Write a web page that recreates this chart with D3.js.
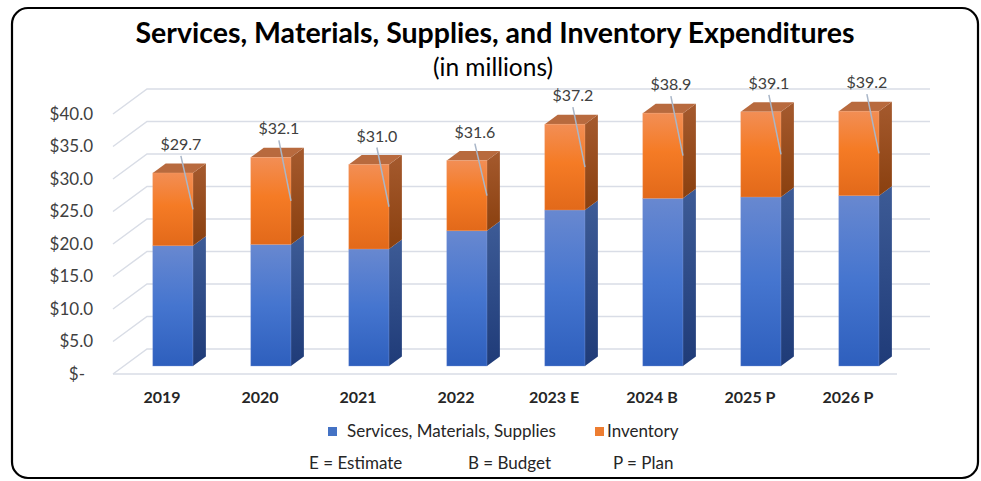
<!DOCTYPE html>
<html>
<head>
<meta charset="utf-8">
<script src="https://cdn.jsdelivr.net/npm/d3@7"></script>
<style>
  html, body { margin: 0; padding: 0; background: #fff; }
  svg { display: block; font-family: Lato, "Open Sans", sans-serif; }
</style>
</head>
<body>
<svg id="chart" width="981" height="481"></svg>
<script>
// Expenditure data (in millions of dollars)
const categories = ["2019", "2020", "2021", "2022", "2023 E", "2024 B", "2025 P", "2026 P"];
const servicesValues = [18.5, 18.7, 18.0, 20.8, 24.0, 25.8, 26.0, 26.2];
const inventoryValues = [11.2, 13.4, 13.0, 10.8, 13.2, 13.1, 13.1, 13.0];
const totalLabels = ["$29.7", "$32.1", "$31.0", "$31.6", "$37.2", "$38.9", "$39.1", "$39.2"];
const seriesNames = ["Services, Materials, Supplies", "Inventory"];
const yTicks = [0, 5, 10, 15, 20, 25, 30, 35, 40];
const noteLabels = ["E = Estimate", "B = Budget", "P = Plan"];

const svg = d3.select("#chart");

// Oblique 3-D projection: depth t in [0,1] shifts right and up
const DX = 34, DY = 25;
const tFront = 0.32, tBack = 0.70;

const x = d3.scaleBand().domain(categories).range([113, 897]).padding(0);
const y = d3.scaleLinear().domain([0, 40]).range([374, 114]);
const barW = x.bandwidth() * 0.41;
const P = (xf, v, t) => [xf + DX * t, y(v) - DY * t];

// Chart frame
svg.append("rect")
  .attr("x", 12).attr("y", 8).attr("width", 966).attr("height", 470)
  .attr("rx", 16).attr("ry", 16)
  .attr("fill", "#fff").attr("stroke", "#000").attr("stroke-width", 2.2);

// Titles
svg.append("text")
  .attr("x", 495).attr("y", 43)
  .attr("text-anchor", "middle")
  .attr("font-size", 28.5).attr("font-weight", 700).attr("fill", "#000")
  .text("Services, Materials, Supplies, and Inventory Expenditures");
svg.append("text")
  .attr("x", 493).attr("y", 76)
  .attr("text-anchor", "middle")
  .attr("font-size", 24.5).attr("fill", "#000")
  .text("(in millions)");

// Gradients
const defs = svg.append("defs");
function vGrad(id, stops) {
  const g = defs.append("linearGradient").attr("id", id)
    .attr("x1", 0).attr("y1", 0).attr("x2", 0).attr("y2", 1);
  stops.forEach(([o, c]) => g.append("stop").attr("offset", o).attr("stop-color", c));
}
vGrad("blueFront", [[0, "#6888d0"], [0.5, "#4575cf"], [1, "#2e5fbd"]]);
vGrad("blueSide", [[0, "#3d5b96"], [1, "#1f3b78"]]);
vGrad("orangeFront", [[0, "#f28e55"], [0.45, "#f57b25"], [1, "#e2691a"]]);
vGrad("orangeSide", [[0, "#a55a2e"], [1, "#8a400f"]]);

// Gridlines: wall line plus the diagonal floor-to-wall stub
const grid = svg.append("g").attr("stroke", "#d9dde6").attr("stroke-width", 1.5).attr("fill", "none");
yTicks.forEach(v => {
  const a = P(113, v, 0), b = P(113, v, 1);
  grid.append("path").attr("d", `M${a[0]},${a[1]}L${b[0]},${b[1]}L930,${b[1]}`);
});
grid.append("path").attr("d", `M113,${y(0)}L897,${y(0)}`);

// Y axis labels
const yAxis = svg.append("g")
  .attr("transform", "translate(113,0)")
  .call(d3.axisLeft(y).tickValues(yTicks).tickSize(0).tickPadding(20)
    .tickFormat(v => v === 0 ? "$-" : "$" + v.toFixed(1)));
yAxis.select(".domain").remove();
yAxis.selectAll("text")
  .attr("font-family", "Lato, sans-serif").attr("font-size", 17).attr("fill", "#404040")
  .attr("dx", v => v === 0 ? -8 : 0);

// X axis labels
const xAxis = svg.append("g")
  .attr("transform", `translate(0,${y(0)})`)
  .call(d3.axisBottom(x).tickSize(0).tickPadding(18));
xAxis.select(".domain").remove();
xAxis.selectAll("text")
  .attr("font-family", "Lato, sans-serif").attr("font-size", 16)
  .attr("font-weight", 700).attr("fill", "#262626");

// Stacked 3-D bars
const stackData = categories.map((c, i) => ({ cat: c, services: servicesValues[i], inventory: inventoryValues[i] }));
const stacked = d3.stack().keys(["services", "inventory"])(stackData);
const fills = {
  services: { front: "url(#blueFront)", side: "url(#blueSide)", top: "#4a6aad", edge: "#7e9ad8" },
  inventory: { front: "url(#orangeFront)", side: "url(#orangeSide)", top: "#b86a3e", edge: "#f4a070" }
};
const poly = pts => "M" + pts.map(p => p.join(",")).join("L") + "Z";

const bars = svg.append("g");
categories.forEach((c, i) => {
  const cx = x(c) + x.bandwidth() / 2;
  const xl = cx - barW / 2, xr = cx + barW / 2;
  stacked.forEach((layer, li) => {
    const [v0, v1] = layer[i];
    const f = fills[layer.key];
    const g = bars.append("g");
    // side face
    g.append("path").attr("d", poly([P(xr, v0, tFront), P(xr, v0, tBack), P(xr, v1, tBack), P(xr, v1, tFront)]))
      .attr("fill", f.side);
    // top face on the highest segment
    if (li === stacked.length - 1) {
      g.append("path").attr("d", poly([P(xl, v1, tFront), P(xr, v1, tFront), P(xr, v1, tBack), P(xl, v1, tBack)]))
        .attr("fill", f.top);
    }
    // front face
    const a = P(xl, v1, tFront), b = P(xr, v0, tFront);
    g.append("rect")
      .attr("x", a[0]).attr("y", a[1]).attr("width", b[0] - a[0]).attr("height", b[1] - a[1])
      .attr("fill", f.front).attr("stroke", f.edge).attr("stroke-width", 0.6).attr("stroke-opacity", 0.6);
  });
});

// Total labels with leader lines to the inventory segment
const labels = svg.append("g");
categories.forEach((c, i) => {
  const cx = x(c) + x.bandwidth() / 2;
  const total = servicesValues[i] + inventoryValues[i];
  const top = P(cx, total, tFront);
  const lx = top[0] + 8, ly = top[1] - 29;
  const mid = P(cx + barW / 2, servicesValues[i] + inventoryValues[i] / 2, tFront);
  labels.append("line")
    .attr("x1", lx).attr("y1", ly + 12).attr("x2", mid[0]).attr("y2", mid[1])
    .attr("stroke", "#a9b6c8").attr("stroke-width", 1.5);
  labels.append("text")
    .attr("x", lx).attr("y", ly + 6)
    .attr("text-anchor", "middle")
    .attr("font-size", 16).attr("fill", "#404040")
    .text(totalLabels[i]);
});

// Legend
const legend = svg.append("g").attr("font-size", 17).attr("fill", "#262626");
const legendItems = [
  { name: seriesNames[0], color: "#4472c4", x: 328 },
  { name: seriesNames[1], color: "#ed7d31", x: 595 }
];
legendItems.forEach((d, i) => {
  legend.append("rect").attr("x", d.x).attr("y", 427).attr("width", 9).attr("height", 9).attr("fill", d.color);
  legend.append("text").attr("x", d.x + (i === 0 ? 19 : 12)).attr("y", 437).text(d.name);
});
const noteX = [309, 468, 613];
noteLabels.forEach((t, i) => {
  legend.append("text").attr("x", noteX[i]).attr("y", 469).text(t);
});
</script>
</body>
</html>
